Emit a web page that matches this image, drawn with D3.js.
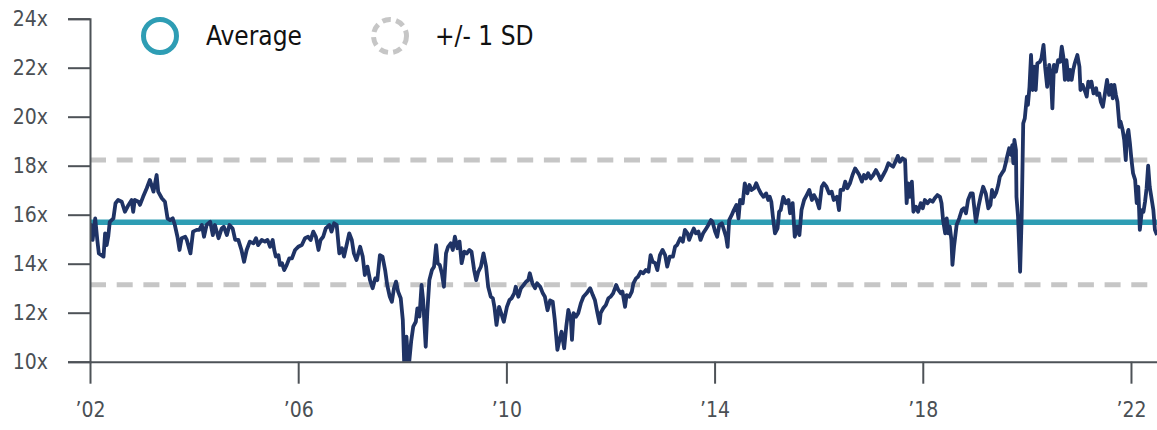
<!DOCTYPE html>
<html>
<head>
<meta charset="utf-8">
<script src="https://cdn.jsdelivr.net/npm/d3@7"></script>
<style>
  html, body { margin: 0; padding: 0; background: #ffffff; }
  svg { display: block; }
  text { font-family: "Liberation Sans Narrow", "DejaVu Sans Condensed", "Roboto", sans-serif; }
</style>
</head>
<body>
<svg id="chart" width="1157" height="430"></svg>
<script>
// ---- Data ----
const dates = [
  2002.00,2002.02,2002.05,2002.10,2002.14,2002.17,2002.22,2002.26,2002.29,2002.32,2002.35,2002.38,2002.45,2002.49,2002.54,2002.61,2002.67,2002.74,2002.80,2002.83,2002.86,2002.93,2002.96,
  2003.02,2003.09,2003.15,2003.22,2003.28,2003.31,2003.38,2003.44,2003.49,2003.54,2003.59,2003.63,2003.68,2003.72,2003.76,2003.83,2003.86,2003.93,2003.98,
  2004.05,2004.10,2004.15,2004.19,2004.24,2004.31,2004.36,2004.40,2004.47,2004.53,2004.57,2004.63,2004.68,2004.74,2004.79,2004.85,2004.91,2004.96,
  2005.01,2005.07,2005.14,2005.19,2005.23,2005.30,2005.36,2005.41,2005.46,2005.51,2005.54,2005.57,2005.62,2005.65,2005.69,2005.73,2005.78,2005.83,2005.88,2005.94,
  2006.00,2006.07,2006.13,2006.19,2006.24,2006.29,2006.34,2006.39,2006.43,2006.48,2006.53,2006.60,2006.64,2006.69,2006.74,2006.79,2006.84,2006.88,2006.93,2006.98,
  2007.03,2007.07,2007.12,2007.19,2007.24,2007.28,2007.33,2007.38,2007.43,2007.48,2007.52,2007.57,2007.62,2007.67,2007.71,2007.76,2007.80,2007.84,2007.88,2007.92,2007.97,
  2008.01,2008.04,2008.08,2008.12,2008.17,2008.21,2008.26,2008.29,2008.33,2008.37,2008.40,2008.45,2008.48,2008.52,2008.57,2008.61,2008.65,2008.68,2008.72,2008.76,2008.80,2008.84,2008.88,2008.93,2008.97,
  2009.01,2009.06,2009.10,2009.14,2009.19,2009.24,2009.29,2009.33,2009.38,2009.42,2009.46,2009.51,2009.56,2009.61,2009.65,2009.70,2009.74,2009.77,2009.81,2009.86,2009.91,2009.95,
  2010.01,2010.06,2010.10,2010.15,2010.18,2010.23,2010.28,2010.33,2010.38,2010.42,2010.45,2010.50,2010.55,2010.59,2010.65,2010.70,2010.74,2010.79,2010.84,2010.89,2010.93,2010.98,
  2011.02,2011.06,2011.11,2011.15,2011.19,2011.24,2011.26,2011.29,2011.34,2011.38,2011.43,2011.48,2011.54,2011.61,2011.66,2011.70,2011.75,2011.79,2011.81,2011.86,2011.91,2011.96,
  2012.00,2012.05,2012.11,2012.15,2012.20,2012.23,2012.28,2012.31,2012.36,2012.41,2012.44,2012.49,2012.53,2012.58,2012.63,2012.68,2012.73,2012.77,2012.81,2012.86,2012.90,2012.95,
  2013.00,2013.05,2013.09,2013.14,2013.20,2013.24,2013.28,2013.34,2013.39,2013.43,2013.48,2013.51,2013.56,2013.60,2013.64,2013.69,2013.73,2013.78,2013.84,2013.88,2013.93,2013.96,
  2014.01,2014.05,2014.09,2014.14,2014.18,2014.22,2014.25,2014.28,2014.33,2014.37,2014.42,2014.46,2014.49,2014.54,2014.58,2014.63,2014.67,2014.71,2014.76,2014.80,2014.84,2014.89,2014.94,2014.99,
  2015.03,2015.06,2015.09,2015.12,2015.16,2015.21,2015.24,2015.27,2015.32,2015.37,2015.42,2015.45,2015.50,2015.54,2015.59,2015.63,2015.67,2015.72,2015.77,2015.82,2015.87,2015.91,2015.96,
  2016.01,2016.06,2016.10,2016.15,2016.20,2016.25,2016.29,2016.35,2016.39,2016.42,2016.47,2016.51,2016.55,2016.60,2016.65,2016.70,2016.74,2016.78,2016.83,2016.87,2016.91,2016.95,
  2017.00,2017.05,2017.10,2017.15,2017.19,2017.24,2017.29,2017.34,2017.38,2017.43,2017.49,2017.52,2017.56,2017.61,2017.66,2017.69,2017.72,2017.75,2017.79,2017.82,2017.87,2017.91,2017.96,
  2018.00,2018.04,2018.09,2018.14,2018.19,2018.23,2018.28,2018.33,2018.36,2018.39,2018.43,2018.46,2018.49,2018.52,2018.55,2018.57,2018.60,2018.65,2018.70,2018.75,2018.79,2018.83,2018.87,2018.92,2018.96,2018.98,
  2019.02,2019.07,2019.11,2019.16,2019.21,2019.26,2019.30,2019.33,2019.37,2019.41,2019.45,2019.48,2019.52,2019.56,2019.60,2019.62,2019.66,2019.69,2019.72,2019.74,2019.76,2019.79,2019.80,2019.83,2019.87,2019.90,2019.93,2019.96,
  2020.00,2020.02,2020.05,2020.08,2020.11,2020.14,2020.17,2020.20,2020.25,2020.28,2020.32,2020.35,2020.39,2020.43,2020.46,2020.49,2020.52,2020.56,2020.60,2020.64,2020.67,2020.70,2020.73,2020.76,2020.80,2020.83,2020.86,2020.89,2020.92,2020.97,
  2021.01,2021.03,2021.07,2021.12,2021.15,2021.18,2021.21,2021.24,2021.28,2021.33,2021.35,2021.39,2021.42,2021.46,2021.50,2021.54,2021.58,2021.62,2021.65,2021.68,2021.71,2021.74,2021.78,2021.80,2021.84,2021.87,2021.90,2021.92,2021.95,2021.98,
  2022.01,2022.04,2022.08,2022.11,2022.14,2022.17,2022.21,2022.24,2022.27,2022.30,2022.33,2022.36,2022.40,2022.43,2022.46,2022.50
];
const peRatio = [
  15.50,15.58,14.97,15.85,14.97,14.42,14.35,14.29,15.24,14.76,15.10,15.71,15.85,16.47,16.60,16.53,16.12,16.40,16.60,16.12,16.60,16.53,16.40,
  16.73,17.08,17.42,16.94,17.62,16.94,16.67,16.53,15.85,15.78,15.85,15.58,15.10,14.56,15.04,15.10,14.97,14.42,15.31,
  15.38,15.38,15.58,15.10,15.58,15.71,15.17,15.58,15.04,15.44,15.51,15.17,15.58,15.44,14.97,14.97,14.56,14.08,
  14.56,14.90,14.83,15.04,14.76,14.97,14.90,14.97,14.69,14.97,14.56,14.29,14.35,13.95,14.02,13.74,13.95,14.22,14.22,14.56,
  14.69,14.76,15.04,15.10,14.97,15.31,15.10,14.56,14.97,15.10,15.44,15.58,15.31,15.65,15.58,14.42,14.63,14.29,14.76,15.24,
  14.97,14.42,14.15,14.69,14.29,13.54,13.88,13.33,13.00,13.40,13.33,14.35,14.29,13.74,13.13,12.65,12.45,13.00,13.27,12.86,12.59,
  11.70,9.70,11.02,9.70,10.82,11.43,11.63,12.18,11.84,13.13,12.52,10.61,11.98,13.33,13.74,13.88,14.76,14.02,13.95,13.61,13.06,14.42,14.69,14.83,14.56,
  15.10,14.63,14.90,14.02,14.49,14.42,14.56,14.49,13.74,13.33,13.67,13.88,14.42,13.88,13.06,12.65,12.59,12.24,11.50,12.24,11.91,11.63,
  12.24,12.52,12.59,12.79,13.06,12.65,13.00,13.13,13.27,13.33,13.61,13.20,13.00,13.20,13.06,12.79,12.65,12.10,12.50,12.45,11.70,10.48,
  10.89,11.22,10.55,11.43,12.11,11.70,10.89,11.98,11.84,11.98,12.38,12.65,12.79,13.00,12.72,12.52,11.98,11.57,11.98,12.18,12.31,12.59,
  12.65,12.79,13.13,12.93,12.79,12.86,12.24,12.72,12.65,12.86,13.20,13.40,13.47,13.67,13.61,13.74,13.67,14.35,14.08,14.02,13.74,14.35,
  14.56,14.35,13.88,14.29,14.29,14.69,14.76,15.04,14.90,15.38,15.24,14.97,15.24,15.44,15.24,15.31,14.97,15.24,15.44,15.58,15.78,15.71,
  15.31,15.10,15.58,15.65,15.38,15.10,14.69,15.78,15.99,16.19,16.40,15.85,16.60,16.47,17.28,16.87,17.21,17.01,17.08,17.28,17.08,16.87,16.73,16.87,
  16.60,16.73,16.53,15.92,15.24,15.44,16.12,16.19,16.73,16.47,16.60,16.06,16.47,15.10,15.51,15.17,16.19,16.60,16.80,17.01,16.60,16.80,16.60,
  16.26,17.14,17.28,17.14,16.87,16.94,16.60,16.73,16.19,17.01,17.01,17.35,17.08,17.28,17.62,17.89,17.76,17.62,17.35,17.62,17.48,17.69,
  17.48,17.62,17.82,17.62,17.42,17.62,17.82,18.10,18.03,17.96,18.23,18.40,18.16,18.30,18.23,16.47,17.28,16.73,17.35,16.12,16.33,16.12,16.47,
  16.26,16.60,16.47,16.60,16.53,16.67,16.80,16.73,16.47,15.78,15.24,15.85,15.24,15.51,14.97,13.95,14.69,15.58,15.85,16.19,16.26,16.06,16.60,16.87,16.87,16.47,
  15.71,16.33,16.73,17.14,16.87,16.26,16.40,17.01,16.73,16.90,17.21,17.55,17.69,17.82,18.16,18.37,18.71,18.44,18.84,18.10,19.05,18.64,16.73,15.92,13.67,15.92,19.73,19.93,
  20.82,20.48,21.22,22.52,21.09,22.04,21.09,22.18,22.24,22.38,22.93,22.04,21.22,22.11,21.71,20.34,22.11,21.84,22.31,22.24,22.86,22.45,21.50,22.31,21.50,21.91,21.50,21.91,22.18,22.52,
  22.04,21.09,21.30,21.02,20.82,21.43,21.22,21.43,20.95,21.16,20.89,20.95,20.61,20.41,20.95,21.50,20.89,21.30,20.75,21.30,20.89,20.61,19.59,19.80,19.46,19.05,18.23,19.18,19.46,18.91,
  18.23,17.69,17.42,16.47,17.14,15.38,16.19,16.12,16.53,17.08,18.00,17.14,16.60,16.19,15.38,15.17
];
const average = 15.69;
const sdUpper = 18.23;
const sdLower = 13.14;
const yTicks = [10, 12, 14, 16, 18, 20, 22, 24];
const xTicks = [2002, 2006, 2010, 2014, 2018, 2022];
const legendLabels = ["Average", "+/- 1 SD"];

// ---- Layout ----
const svg = d3.select("#chart");
const plotLeft = 90, plotRight = 1157, plotTop = 18.7, plotBottom = 361.7;

const x = d3.scaleLinear().domain([2002, 2022.5]).range([plotLeft, plotRight]);
const y = d3.scaleLinear().domain([10, 24]).range([plotBottom, plotTop]);

const axisColor = "#4d5257";
const navy = "#1f3365";
const teal = "#2e9db4";
const grey = "#c6c6c6";
const fontFam = "'Liberation Sans Narrow', 'DejaVu Sans Condensed', sans-serif";

// clip
svg.append("defs").append("clipPath").attr("id", "plotclip")
  .append("rect").attr("x", plotLeft).attr("y", 0)
  .attr("width", plotRight - plotLeft).attr("height", plotBottom);

// SD dashed lines
svg.selectAll("line.sd").data([sdUpper, sdLower]).enter().append("line")
  .attr("class", "sd")
  .attr("x1", plotLeft).attr("x2", plotRight)
  .attr("y1", d => y(d)).attr("y2", d => y(d))
  .attr("stroke", grey).attr("stroke-width", 5)
  .attr("stroke-dasharray", "16,10.7");

// average line
svg.append("line")
  .attr("x1", plotLeft).attr("x2", plotRight)
  .attr("y1", y(average)).attr("y2", y(average))
  .attr("stroke", teal).attr("stroke-width", 5.5);

// data line
const pts = dates.map((d, i) => [d, peRatio[i]]);
svg.append("path")
  .datum(pts)
  .attr("clip-path", "url(#plotclip)")
  .attr("fill", "none")
  .attr("stroke", navy)
  .attr("stroke-width", 3.8)
  .attr("stroke-linejoin", "round")
  .attr("d", d3.line().x(d => x(d[0])).y(d => y(d[1])));

// Y axis
const yAxis = svg.append("g")
  .attr("transform", `translate(${plotLeft},0)`)
  .call(d3.axisLeft(y).tickValues(yTicks).tickSize(22).tickSizeOuter(22).tickPadding(20)
    .tickFormat(d => d + "x"));
yAxis.select(".domain").attr("stroke", axisColor).attr("stroke-width", 2);
yAxis.selectAll(".tick line").attr("stroke", axisColor).attr("stroke-width", 2);
yAxis.selectAll(".tick text").attr("fill", "#4a4f54").attr("font-size", 21)
  .attr("font-family", fontFam);

// X axis
const xAxis = svg.append("g")
  .attr("transform", `translate(0,${plotBottom})`)
  .call(d3.axisBottom(x).tickValues(xTicks).tickSize(22).tickSizeOuter(0).tickPadding(18)
    .tickFormat(d => "\u2019" + String(d).slice(2)));
xAxis.select(".domain").attr("stroke", axisColor).attr("stroke-width", 2);
xAxis.selectAll(".tick line").attr("stroke", axisColor).attr("stroke-width", 2);
xAxis.selectAll(".tick text").attr("fill", "#4a4f54").attr("font-size", 21)
  .attr("font-family", fontFam);

// Legend
const legend = svg.append("g");
legend.append("circle").attr("cx", 160).attr("cy", 36).attr("r", 16.5)
  .attr("fill", "none").attr("stroke", teal).attr("stroke-width", 5);
legend.append("text").attr("x", 206).attr("y", 45).attr("font-size", 26).attr("fill", "#111")
  .attr("font-family", fontFam).text(legendLabels[0]);
legend.append("circle").attr("cx", 390).attr("cy", 36).attr("r", 16.5)
  .attr("fill", "none").attr("stroke", grey).attr("stroke-width", 5)
  .attr("stroke-dasharray", "8.6,5.3");
legend.append("text").attr("x", 435).attr("y", 45).attr("font-size", 26).attr("fill", "#111")
  .attr("font-family", fontFam).text(legendLabels[1]);
</script>
</body>
</html>
